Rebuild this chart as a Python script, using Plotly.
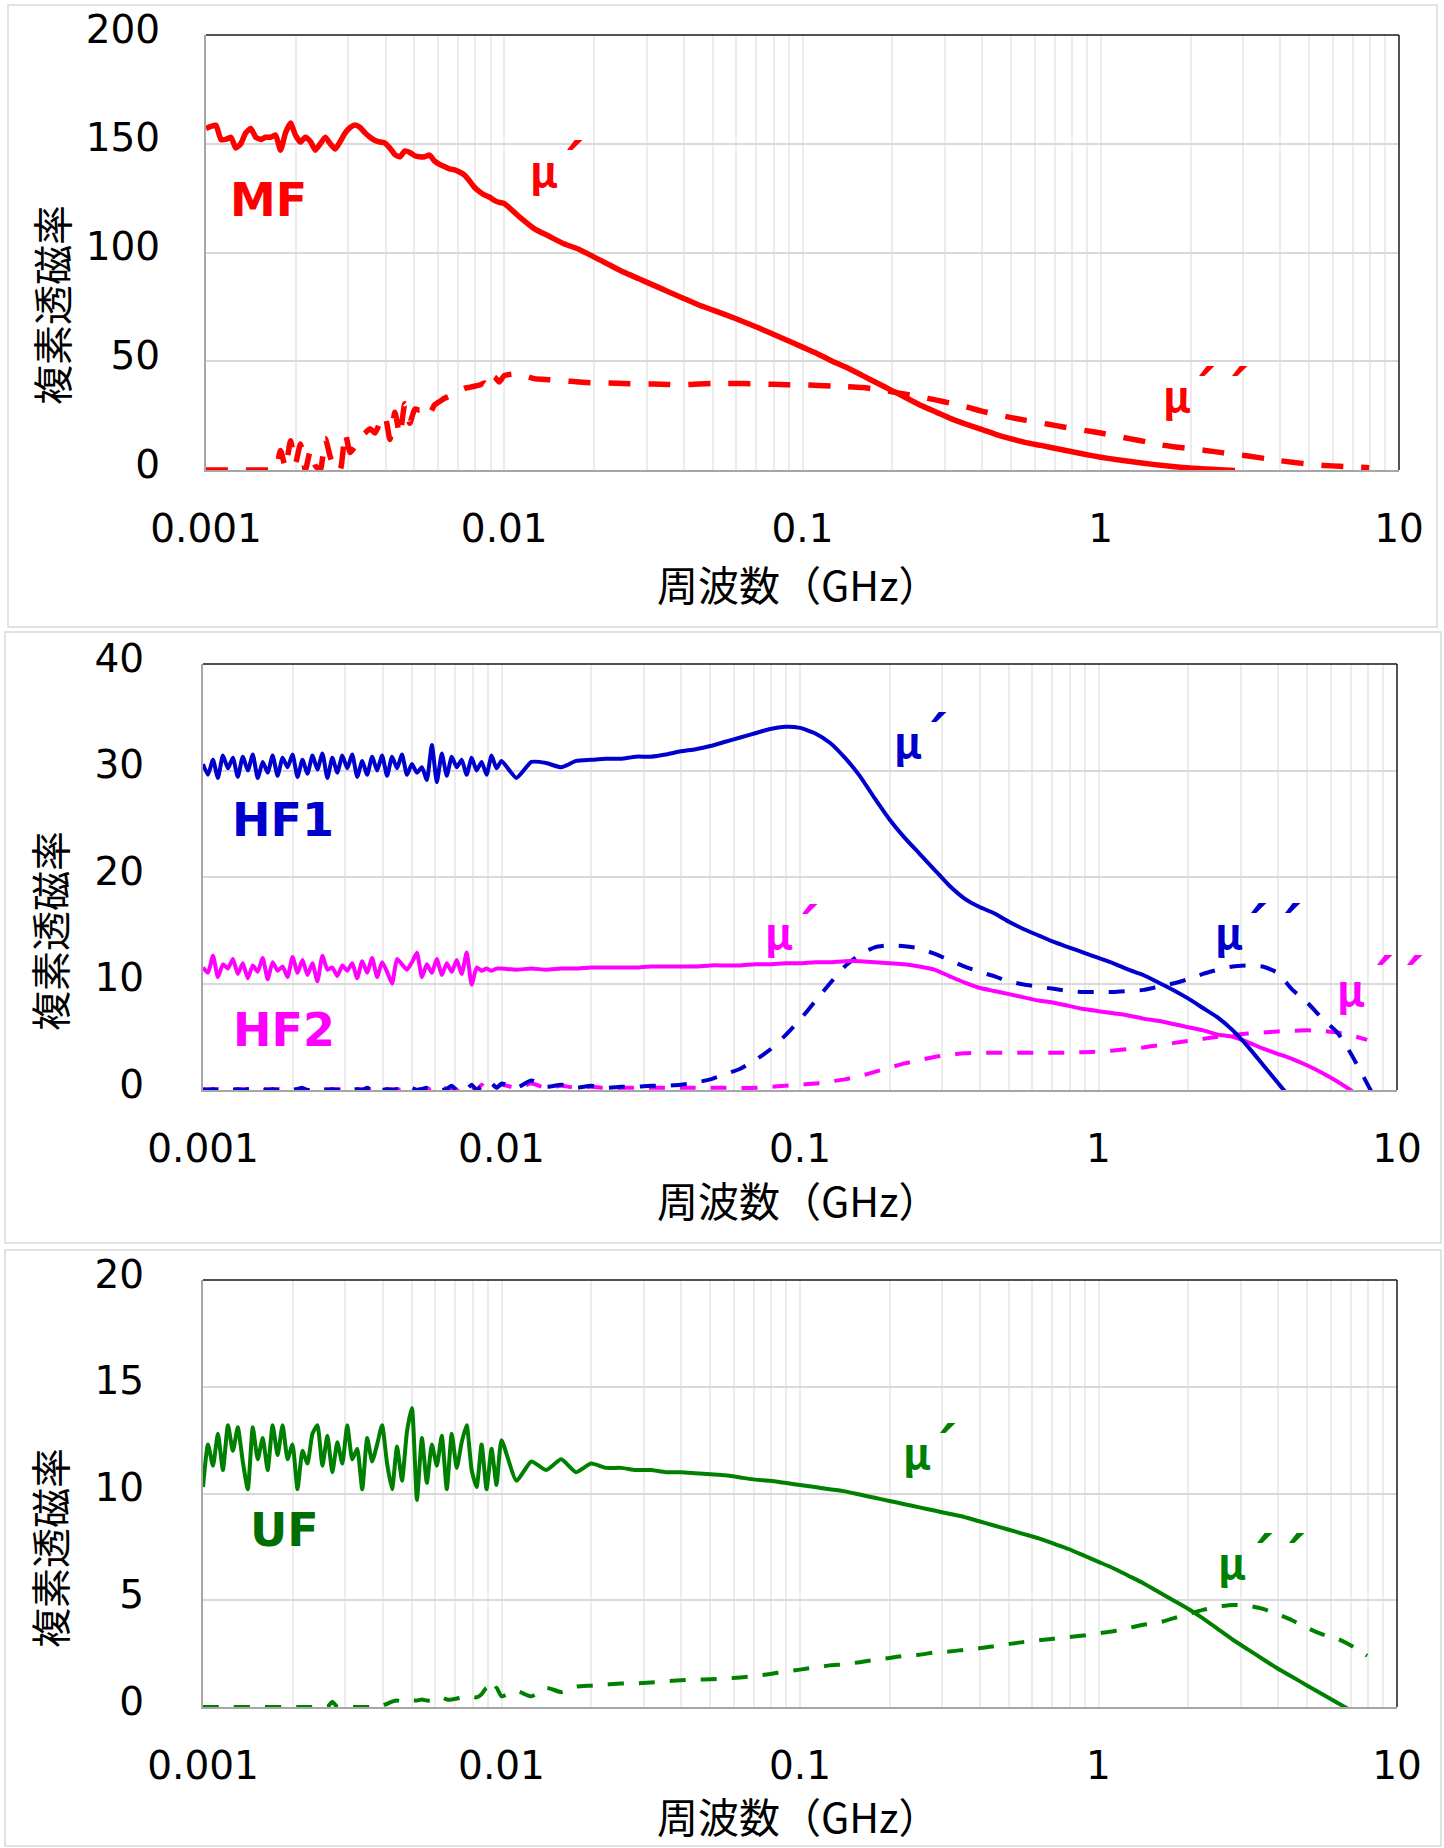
import plotly.graph_objects as go

W, H = 1444, 1848

# ---------------- data ----------------
F_LOW = [0.001000, 0.001039, 0.001080, 0.001122, 0.001166, 0.001212, 0.001259, 0.001308, 0.001359, 0.001413,
         0.001468, 0.001525, 0.001585, 0.001647, 0.001711, 0.001778, 0.001848, 0.001920, 0.001995, 0.002073,
         0.002154, 0.002239, 0.002326, 0.002417, 0.002512, 0.002610, 0.002712, 0.002818, 0.002929, 0.003043,
         0.003162, 0.003286, 0.003415, 0.003548, 0.003687, 0.003831, 0.003981, 0.004137, 0.004299, 0.004467,
         0.004642, 0.004823, 0.005012, 0.005208, 0.005412, 0.005623, 0.005843, 0.006072, 0.006310, 0.006556,
         0.006813, 0.007080, 0.007356, 0.007644, 0.007943, 0.008254, 0.008577, 0.008913, 0.009261, 0.009624]
F_MID = [0.01000, 0.01122, 0.01259, 0.01413, 0.01585, 0.01778, 0.01995, 0.02239, 0.02512, 0.02818,
         0.03162, 0.03548, 0.03981, 0.04467, 0.05012, 0.05623, 0.06310, 0.07079, 0.07943, 0.08913]
F_HIGH = [0.1000, 0.1122, 0.1259, 0.1413, 0.1585, 0.1778, 0.1995, 0.2239, 0.2512, 0.2818,
          0.3162, 0.3548, 0.3981, 0.4467, 0.5012, 0.5623, 0.6310, 0.7079, 0.7943, 0.8913,
          1.000, 1.122, 1.259, 1.413, 1.585, 1.778, 1.995, 2.239, 2.512, 2.818,
          3.162, 3.548, 3.981, 4.467, 5.012, 5.623, 6.310, 7.079, 7.943, 8.913, 10.0]
FREQ_GHZ = F_LOW + F_MID + F_HIGH

# MF
MF_MU1 = ([157, 158, 158.5, 152, 152, 153, 148, 150, 155, 157,
           153, 152, 153, 153, 154, 147, 155, 159.5, 154, 150.8,
           153, 151, 147, 150, 153, 150, 147.6, 151, 155, 157.5,
           158.6, 157.5, 155, 153, 151.5, 150.8, 150.3, 148, 145, 144,
           146.7, 146, 144.5, 144, 144, 144.8, 142, 140.5, 139.5, 138.5,
           138, 137, 135.6, 133, 130, 128, 126.5, 125.5, 124, 123]
          + [122.5, 116.5, 111, 107.5, 104, 101.5, 98, 94.5, 91, 88,
             85, 82, 79, 76, 73.5, 71, 68.3, 65.5, 62.5, 59.5]
          + [56.5, 53.5, 50, 47, 43.5, 40, 36.5, 33, 29.5, 26.5,
             23.5, 21, 18.7, 16.3, 14.3, 12.6, 11.3, 9.9, 8.5, 7.1,
             5.9, 4.8, 3.9, 3.0, 2.2, 1.5, 0.9, 0.5, 0.15, -0.2,
             None, None, None, None, None, None, None, None, None, None, None])
MF_MU2 = ([0, 0, 0, 0, 0, 0, 0, 0, 0, 0,
           0, 0, 0, 0, 0.5, 9, 1, 13.5, 3, 12,
           0, 9, 2, 0, 14.5, 6, 0, 0, 17, 8,
           11, 15, 17, 19, 17, 22, 25, 14, 26.5, 16,
           30.5, 21.5, 28, 27.5, 29, 26, 30, 31.5, 33, 34,
           35.5, 36.5, 37.5, 38, 38.5, 39, 40, 38, 42.8, 40.5]
          + [43.4, 44.2, 42, 41.5, 41, 40.5, 40, 40, 39.8, 39.5,
             39.5, 39.3, 39.2, 39.5, 39.8, 39.8, 39.8, 39.6, 39.4, 39.2]
          + [39.2, 38.9, 38.6, 38.3, 37.9, 37.1, 36.0, 34.7, 33.5, 32.1,
             30.6, 29.0, 27.1, 25.5, 24.1, 22.8, 21.6, 20.4, 19.2, 18.1,
             17.0, 15.7, 14.3, 13.0, 11.6, 10.6, 9.8, 9.0, 8.1, 7.2,
             6.3, 5.3, 4.3, 3.4, 2.7, 2.1, 1.7, 1.35, 1.05, None, None])

# HF1
HF1_MU1 = ([30.6, 29.6, 31.0, 29.3, 31.4, 30.2, 31.2, 29.4, 31.3, 30.0,
            31.5, 29.3, 30.8, 29.8, 31.4, 29.5, 31.2, 30.3, 31.5, 29.4,
            31.0, 29.7, 31.4, 30.1, 31.6, 29.3, 31.2, 29.8, 31.4, 30.2,
            31.5, 29.4, 30.9, 29.6, 31.3, 30.0, 31.4, 29.5, 31.3, 30.2,
            31.5, 29.6, 30.6, 29.8, 30.3, 29.1, 32.4, 28.9, 31.6, 29.5,
            31.3, 30.3, 31.0, 29.6, 31.2, 30.0, 30.8, 29.6, 31.4, 30.2]
           + [30.9, 29.3, 30.8, 30.7, 30.3, 30.9, 31.0, 31.1, 31.1, 31.3,
              31.3, 31.5, 31.8, 32.0, 32.3, 32.7, 33.1, 33.5, 33.9, 34.1]
           + [34.0, 33.5, 32.6, 31.2, 29.5, 27.4, 25.4, 23.7, 22.2, 20.7,
              19.2, 18.0, 17.2, 16.6, 15.8, 15.1, 14.5, 13.9, 13.4, 12.9,
              12.4, 11.9, 11.3, 10.8, 10.1, 9.4, 8.6, 7.7, 6.8, 5.6,
              4.1, 2.4, 0.7, -1.0, None, None, None, None, None, None, None])
HF1_MU2 = ([0.1, 0.0, 0.1, 0.0, 0.1, 0.1, 0.0, 0.1, 0.0, 0.1,
            0.1, 0.0, 0.1, 0.0, 0.1, 0.0, 0.1, 0.1, 0.0, 0.1,
            0.2, 0.0, 0.1, 0.0, 0.1, 0.0, 0.1, 0.0, 0.1, 0.1,
            0.0, 0.1, 0.0, 0.2, 0.0, 0.3, 0.0, 0.1, 0.0, 0.1,
            0.1, 0.0, 0.2, 0.0, 0.1, 0.2, 0.0, 0.1, 0.0, 0.1,
            0.4, 0.0, 0.3, 0.1, 0.5, 0.0, 0.3, 0.1, 0.6, 0.2]
           + [0.6, 0.2, 0.9, 0.3, 0.5, 0.2, 0.4, 0.2, 0.3, 0.3,
              0.4, 0.4, 0.5, 0.7, 1.0, 1.5, 2.0, 2.8, 3.8, 5.1]
           + [6.6, 8.3, 10.0, 11.6, 12.7, 13.4, 13.6, 13.5, 13.3, 12.8,
              12.2, 11.6, 11.1, 10.7, 10.2, 9.9, 9.7, 9.5, 9.3, 9.2,
              9.2, 9.2, 9.3, 9.4, 9.7, 10.0, 10.4, 10.9, 11.3, 11.6,
              11.7, 11.6, 11.0, 9.4, 8.2, 6.7, 5.4, 3.2, 0.6, -2.0, None])

# HF2
HF2_MU1 = ([11.5, 11.0, 12.6, 10.6, 11.8, 11.4, 12.3, 10.9, 11.9, 10.5,
            11.7, 11.1, 12.4, 10.4, 12.0, 11.2, 11.6, 10.6, 12.5, 11.0,
            12.2, 10.8, 11.9, 10.2, 12.6, 11.3, 11.5, 10.7, 11.7, 11.2,
            11.9, 10.5, 12.1, 11.0, 12.4, 10.6, 12.0, 11.1, 10.0, 12.3,
            11.8, 11.3, 12.0, 12.9, 10.6, 11.8, 11.0, 12.3, 10.8, 11.9,
            11.1, 12.2, 10.9, 12.9, 9.9, 11.5, 11.2, 11.4, 11.2, 11.4]
           + [11.4, 11.3, 11.4, 11.3, 11.4, 11.4, 11.5, 11.5, 11.5, 11.5,
              11.6, 11.6, 11.6, 11.6, 11.7, 11.7, 11.7, 11.8, 11.8, 11.9]
           + [11.9, 12.0, 12.0, 12.1, 12.1, 12.0, 11.9, 11.8, 11.6, 11.3,
              10.7, 10.1, 9.6, 9.3, 9.0, 8.7, 8.4, 8.2, 7.9, 7.6,
              7.4, 7.2, 7.0, 6.7, 6.5, 6.2, 5.9, 5.6, 5.2, 5.0,
              4.5, 3.9, 3.4, 2.9, 2.3, 1.6, 0.8, -0.1, None, None, None])
HF2_MU2 = ([0.0, 0.1, 0.0, 0.1, 0.0, 0.0, 0.1, 0.0, 0.1, 0.0,
            0.0, 0.1, 0.0, 0.1, 0.0, 0.1, 0.0, 0.0, 0.1, 0.0,
            0.1, 0.0, 0.0, 0.1, 0.0, 0.1, 0.0, 0.1, 0.0, 0.0,
            0.1, 0.0, 0.1, 0.0, 0.2, 0.0, 0.1, 0.0, 0.1, 0.0,
            0.1, 0.0, 0.1, 0.0, 0.1, 0.0, 0.2, 0.0, 0.3, 0.1,
            0.2, 0.0, 0.4, 0.1, 0.3, 0.0, 0.5, 0.1, 0.3, 0.2]
           + [0.5, 0.2, 0.6, 0.2, 0.4, 0.2, 0.3, 0.2, 0.2, 0.2,
              0.2, 0.2, 0.2, 0.2, 0.2, 0.2, 0.2, 0.2, 0.3, 0.4]
           + [0.5, 0.6, 0.8, 1.0, 1.3, 1.7, 2.1, 2.5, 2.8, 3.1,
              3.3, 3.45, 3.5, 3.5, 3.5, 3.5, 3.5, 3.5, 3.5, 3.55,
              3.6, 3.7, 3.85, 4.0, 4.2, 4.4, 4.6, 4.8, 5.0, 5.15,
              5.3, 5.4, 5.5, 5.55, 5.6, 5.55, 5.4, 5.1, 4.7, None, None])

# UF
UF_MU1 = ([10.3, 12.3, 11.3, 12.8, 11.1, 13.2, 12.0, 13.1, 11.5, 10.2,
           13.1, 11.6, 12.6, 11.1, 13.2, 11.8, 13.2, 11.6, 12.3, 10.2,
           12.0, 11.4, 12.8, 13.2, 11.3, 12.7, 11.0, 12.4, 11.4, 13.2,
           11.6, 12.1, 10.2, 12.6, 11.5, 12.3, 13.2, 11.4, 10.2, 12.2,
           10.6, 12.9, 14.0, 9.7, 12.6, 10.5, 12.3, 11.3, 12.7, 10.2,
           12.8, 11.2, 12.4, 13.2, 11.1, 10.3, 12.3, 10.2, 12.1, 10.4]
          + [12.5, 10.6, 11.5, 11.1, 11.6, 11.0, 11.4, 11.2, 11.2, 11.1,
             11.1, 11.0, 11.0, 10.95, 10.9, 10.85, 10.75, 10.65, 10.6, 10.5]
          + [10.4, 10.3, 10.2, 10.1, 9.95, 9.8, 9.65, 9.5, 9.35, 9.2,
             9.05, 8.9, 8.7, 8.5, 8.3, 8.1, 7.9, 7.65, 7.4, 7.1,
             6.8, 6.5, 6.15, 5.8, 5.4, 5.0, 4.6, 4.15, 3.65, 3.15,
             2.7, 2.25, 1.8, 1.4, 1.0, 0.6, 0.2, -0.2, None, None, None])
UF_MU2 = ([0, 0, 0, 0, 0, 0, 0, 0, 0, 0,
           0, 0, 0, 0, 0, 0, 0, 0, 0, 0,
           0, 0, 0, 0, 0, 0, 0.25, 0, 0, 0,
           0, 0, 0, 0, 0, 0, 0.05, 0.15, 0.25, 0.3,
           0.25, 0.25, 0.3, 0.3, 0.35, 0.3, 0.3, 0.4, 0.45, 0.35,
           0.35, 0.4, 0.45, 0.5, 0.5, 0.45, 0.6, 0.9, 0.6, 0.9]
          + [0.5, 0.75, 0.5, 0.9, 0.7, 0.95, 1.0, 1.05, 1.1, 1.1,
             1.15, 1.2, 1.25, 1.28, 1.3, 1.33, 1.38, 1.45, 1.55, 1.65]
          + [1.75, 1.85, 1.95, 2.0, 2.1, 2.2, 2.3, 2.4, 2.45, 2.55,
             2.6, 2.68, 2.75, 2.85, 2.95, 3.05, 3.12, 3.2, 3.27, 3.35,
             3.45, 3.55, 3.7, 3.85, 3.95, 4.15, 4.35, 4.55, 4.7, 4.78,
             4.75, 4.6, 4.35, 4.05, 3.7, 3.4, 3.2, 2.85, 2.4, None, None])

for _s in (MF_MU1, MF_MU2, HF1_MU1, HF1_MU2, HF2_MU1, HF2_MU2, UF_MU1, UF_MU2):
    assert len(_s) == len(FREQ_GHZ), len(_s)

X_TICKS = [0.001, 0.01, 0.1, 1, 10]
X_TICKTEXT = ["0.001", "0.01", "0.1", "1", "10"]
Y1_TICKS = [0, 50, 100, 150, 200]
Y2_TICKS = [0, 10, 20, 30, 40]
Y3_TICKS = [0, 5, 10, 15, 20]
X_TITLE = "周波数（GHz）"
Y_TITLE = "複素透磁率"

RED = "#FF0000"
BLUE = "#0000CC"
MAGENTA = "#FF00FF"
GREEN = "#008000"
GREEN_TEXT = "#006E00"

# ---------------- figure ----------------
def fx(p):
    return p / W


def fy(p):
    return 1 - p / H


fig = go.Figure()


def add_line(y, color, width, dash, xa, ya):
    fig.add_trace(go.Scatter(
        x=FREQ_GHZ, y=y, mode="lines", xaxis=xa, yaxis=ya,
        line=dict(color=color, width=width, dash=dash, shape="spline", smoothing=0.5),
        connectgaps=False, showlegend=False, hoverinfo="skip"))


add_line(MF_MU2, RED, 5.5, "22px,18px", "x", "y")
add_line(MF_MU1, RED, 5.5, "solid", "x", "y")
add_line(HF2_MU2, MAGENTA, 4, "16px,15px", "x2", "y2")
add_line(HF1_MU2, BLUE, 4, "16px,15px", "x2", "y2")
add_line(HF2_MU1, MAGENTA, 4, "solid", "x2", "y2")
add_line(HF1_MU1, BLUE, 4, "solid", "x2", "y2")
add_line(UF_MU2, GREEN, 4, "16px,15px", "x3", "y3")
add_line(UF_MU1, GREEN, 4, "solid", "x3", "y3")

MINOR = [m * 10.0 ** e for e in range(-3, 1) for m in range(2, 10)]
TICKFONT = dict(family="DejaVu Sans", size=39, color="#000000")

# pixel geometry of the three plot areas: (left, right, top, bottom)
PLOTS = [(206, 1399, 35, 470), (203, 1397, 664, 1090), (203, 1397, 1280, 1707)]
FRAMES = [(8, 1437, 5, 627), (5, 1441, 632, 1243), (5, 1441, 1250, 1846)]
YTICKS = [Y1_TICKS, Y2_TICKS, Y3_TICKS]
YSTAND = [36, 49, 49]

layout = dict(width=W, height=H, margin=dict(l=0, r=0, t=0, b=0, autoexpand=False),
              paper_bgcolor="white", plot_bgcolor="white", showlegend=False)
shapes = []
for k, ((l, r, t, b), (fl, fr, ft, fb), yt, ys) in enumerate(zip(PLOTS, FRAMES, YTICKS, YSTAND)):
    sfx = "" if k == 0 else str(k + 1)
    layout["xaxis" + sfx] = dict(
        type="log", range=[-3, 1], domain=[fx(l), fx(r)], anchor="y" + sfx,
        tickvals=X_TICKS, ticktext=X_TICKTEXT, ticks="", tickfont=TICKFONT,
        ticklabelstandoff=23, automargin=False,
        showgrid=True, gridcolor="#ececec", gridwidth=1.5,
        minor=dict(tickmode="array", tickvals=MINOR, showgrid=True, gridcolor="#ececec", gridwidth=1.5, ticks=""),
        showline=True, linecolor="#a6a6a6", linewidth=2, zeroline=False, fixedrange=True)
    layout["yaxis" + sfx] = dict(
        range=[yt[0], yt[-1]], domain=[fy(b), fy(t)], anchor="x" + sfx,
        tickvals=yt, ticks="", tickfont=TICKFONT, ticklabelstandoff=ys, ticklabelshift=-6,
        automargin=False,
        showgrid=True, gridcolor="#d9d9d9", gridwidth=2,
        showline=True, linecolor="#a6a6a6", linewidth=2, zeroline=False, fixedrange=True)
    xr = "x" + sfx + " domain"
    yr = "y" + sfx + " domain"
    shapes.append(dict(type="line", xref=xr, yref=yr, x0=0, x1=1, y0=1, y1=1,
                       line=dict(color="#1a1a1a", width=1.5)))
    shapes.append(dict(type="line", xref=xr, yref=yr, x0=1, x1=1, y0=0, y1=1,
                       line=dict(color="#1a1a1a", width=1.5)))
    shapes.append(dict(type="rect", xref="paper", yref="paper", x0=fx(fl), x1=fx(fr),
                       y0=fy(fb), y1=fy(ft), line=dict(color="#d9d9d9", width=1.5),
                       fillcolor="rgba(0,0,0,0)", layer="below"))

layout["shapes"] = shapes

ann = []
CJK = "Noto Sans CJK JP"
# axis titles
for cx, cy in [(798, 583), (798, 1199), (798, 1815)]:
    ann.append(dict(text=X_TITLE, x=fx(cx), y=fy(cy), xref="paper", yref="paper",
                    xanchor="center", yanchor="middle", showarrow=False,
                    font=dict(family=CJK, size=41, color="#000000")))
for cx, cy in [(51, 305), (49, 931), (49, 1548)]:
    ann.append(dict(text=Y_TITLE, x=fx(cx), y=fy(cy), xref="paper", yref="paper",
                    xanchor="center", yanchor="middle", showarrow=False, textangle=-90,
                    font=dict(family=CJK, size=40, color="#000000")))
# sample names
for txt, cx, cy, col in [("MF", 268, 200, RED), ("HF1", 283, 820, BLUE),
                         ("HF2", 284, 1030, MAGENTA), ("UF", 284, 1530, GREEN_TEXT)]:
    ann.append(dict(text="<b>%s</b>" % txt, x=fx(cx), y=fy(cy), xref="paper", yref="paper",
                    xanchor="center", yanchor="middle", showarrow=False,
                    font=dict(family="DejaVu Sans", size=46, color=col)))
# mu labels: (mu left edge, mu centre y, acute centre xs, acute centre y)
MU_LABELS = [(528, 174, [571], 146, RED), (1161, 400, [1203, 1236], 373, RED),
             (892, 746, [935], 718, BLUE), (763, 936, [806], 910, MAGENTA),
             (1213, 936, [1255, 1289], 909, BLUE), (1335, 993, [1381, 1411], 961, MAGENTA),
             (901, 1456, [944], 1429, GREEN), (1216, 1566, [1261, 1293], 1539, GREEN)]
for lx, cy, axs, ay, col in MU_LABELS:
    ann.append(dict(text="<b>μ</b>", x=fx(lx), y=fy(cy - 6), xref="paper", yref="paper",
                    xanchor="left", yanchor="middle", showarrow=False,
                    font=dict(family=CJK, size=42, color=col)))
    for axp in axs:
        ann.append(dict(text="<b>´</b>", x=fx(axp), y=fy(ay + 18), xref="paper", yref="paper",
                        xanchor="center", yanchor="middle", showarrow=False,
                        font=dict(family="DejaVu Sans", size=56, color=col)))
layout["annotations"] = ann

fig.update_layout(**layout)
fig.write_html("out.html")
